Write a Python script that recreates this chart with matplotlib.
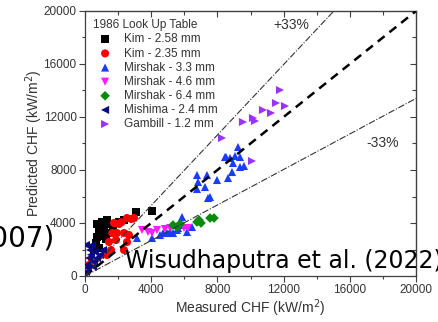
import matplotlib
matplotlib.use("Agg")
import matplotlib.pyplot as plt
import numpy as np
from matplotlib.ticker import MultipleLocator

plt.rcParams['font.family'] = ['Liberation Sans', 'DejaVu Sans']

# ---------------- data (kW/m^2) ----------------
kim258_x = [3081, 4048, 725, 1027, 1329, 1571, 846, 1148, 725, 1027, 665, 846, 544, 2054, 2356, 1692, 1510, 1250, 900]
kim258_y = [4830, 4906, 3924, 4075, 4226, 3924, 3472, 3623, 2943, 3094, 2491, 2113, 1962, 4075, 4226, 3623, 3245, 2800, 3000]

kim235_x = [1752, 2054, 2538, 2961, 1933, 2356, 2659, 1450, 1873, 2538, 1571, 2356, 242, 423, 1329, 1650, 2200, 2800]
kim235_y = [4000, 3924, 4377, 4377, 3245, 3245, 3094, 2566, 2717, 2566, 1962, 1962, 830, 1208, 1585, 3245, 4050, 4300]

mir33_x = [6767, 7371, 6828, 7250, 6767, 7553, 7975, 8640, 8519, 9063, 9365, 9244, 8942, 9365, 8882, 8761, 8459, 9607,
           3142, 4048, 4532, 4713, 4954, 5136, 5317, 5559, 5619, 5861, 5921, 6163, 6465, 7432]
mir33_y = [7622, 7622, 7094, 6717, 6566, 5962, 7245, 7396, 8981, 9056, 8981, 9736, 8528, 8226, 7849, 8906, 8981, 8302,
           2868, 2868, 3094, 3245, 3245, 3321, 3245, 3472, 3623, 4453, 3849, 3321, 3698, 5887]

mir46_x = [3444, 3806, 4048, 4350, 4834, 5136, 5498, 5982, 6223]
mir46_y = [3472, 3321, 3245, 3472, 3547, 3623, 3698, 3623, 3623]

mir64_x = [5317, 5559, 5740, 6767, 6888, 7009, 7553, 7794]
mir64_y = [3849, 3698, 3924, 4075, 4226, 4000, 4377, 4377]

mish_x = [60, 121, 242, 302, 423, 604, 725, 906, 1088, 181, 544, 60, 360, 480]
mish_y = [302, 830, 1358, 1962, 2340, 1811, 1358, 1585, 1962, 604, 1057, 2340, 1600, 700]

gamb_x = [11782, 11540, 12084, 10755, 11238, 10151, 10271, 9546, 8278, 10090]
gamb_y = [14037, 13056, 12830, 12528, 12302, 11924, 11698, 11622, 10415, 8679]

series = [
    ("Kim - 2.58 mm", kim258_x, kim258_y, "s", "#000000"),
    ("Kim - 2.35 mm", kim235_x, kim235_y, "o", "#ff0000"),
    ("Mirshak - 3.3 mm", mir33_x, mir33_y, "^", "#1a3cff"),
    ("Mirshak - 4.6 mm", mir46_x, mir46_y, "v", "#ff1aff"),
    ("Mirshak - 6.4 mm", mir64_x, mir64_y, "D", "#0a8a0a"),
    ("Mishima - 2.4 mm", mish_x, mish_y, "<", "#0a0a80"),
    ("Gambill - 1.2 mm", gamb_x, gamb_y, ">", "#9933ff"),
]

line_x = np.array([0, 20000])
slope_ref = 1.0
slope_hi = 1.33
slope_lo = 0.67

xticks = [0, 4000, 8000, 12000, 16000, 20000]
yticks = [0, 4000, 8000, 12000, 16000, 20000]

# ---------------- figure ----------------
fig = plt.figure(figsize=(4.38, 3.22), dpi=100)
ax = fig.add_axes([85/438, 1-276/322, 331/438, 265/322])

txtc = '#333333'
for i, (lab, xs, ys, m, c) in enumerate(series):
    ms = 34 if m != 'D' else 24
    ax.scatter(xs, ys, marker=m, s=ms, color=c, edgecolors='none', label=lab, zorder=3)

ax.plot(line_x, slope_ref*line_x, color='black', lw=1.8, ls=(0, (3.5, 2.5)), zorder=4)
ax.plot(line_x, slope_hi*line_x, color='#333333', lw=0.8, ls=(0, (6, 1.5, 1, 1.5)), zorder=4)
ax.plot(line_x, slope_lo*line_x, color='#333333', lw=0.8, ls=(0, (6, 1.5, 1, 1.5)), zorder=4)

ax.set_xlim(0, 20000)
ax.set_ylim(0, 20000)
ax.set_xticks(xticks)
ax.set_yticks(yticks)
ax.xaxis.set_minor_locator(MultipleLocator(2000))
ax.yaxis.set_minor_locator(MultipleLocator(2000))
ax.tick_params(axis='both', which='major', direction='out', length=4.5, width=0.8,
               colors='#404040', labelcolor=txtc, labelsize=8.5, pad=1.5)
ax.tick_params(axis='both', which='minor', direction='out', length=2.5, width=0.8, colors='#404040')
for s in ax.spines.values():
    s.set_color('#404040')
    s.set_linewidth(0.9)

# mirrored inward ticks on top/right
top = ax.secondary_xaxis('top')
top.set_xticks(xticks)
top.xaxis.set_minor_locator(MultipleLocator(2000))
top.tick_params(which='both', direction='in', length=4, width=0.8, colors='#404040', labeltop=False)
top.tick_params(which='minor', length=3)
right = ax.secondary_yaxis('right')
right.set_yticks(yticks)
right.yaxis.set_minor_locator(MultipleLocator(2000))
right.tick_params(which='both', direction='in', length=4, width=0.8, colors='#404040', labelright=False)
right.tick_params(which='minor', length=3)

ax.set_xlabel("Measured CHF (kW/m$^2$)", fontsize=10, color=txtc, labelpad=1)
ax.set_ylabel("Predicted CHF (kW/m$^2$)", fontsize=10, color=txtc, labelpad=-1)

leg = ax.legend(loc='upper left', bbox_to_anchor=(0.0, 1.0), frameon=False, fontsize=8.5,
                title="1986 Look Up Table", title_fontsize=8.5, alignment='left',
                handletextpad=0.6, labelspacing=0.18, borderpad=0.5, handlelength=2.0,
                borderaxespad=0.2)
for t in leg.get_texts():
    t.set_color(txtc)
leg.get_title().set_color(txtc)

ax.text(291/438, 1-25/322, "+33%", transform=fig.transFigure, fontsize=10, color=txtc,
        ha='center', va='center')
ax.text(383/438, 1-143/322, "-33%", transform=fig.transFigure, fontsize=10, color=txtc,
        ha='center', va='center')

fig.text(55/438, 1-246/322, "(2007)", fontsize=20, family='DejaVu Sans', color='black',
         ha='right', va='baseline')
fig.text(125/438, 1-268/322, "Wisudhaputra et al. (2022)", fontsize=17, family='DejaVu Sans',
         color='black', ha='left', va='baseline')

fig.savefig("out.png", dpi=100)
